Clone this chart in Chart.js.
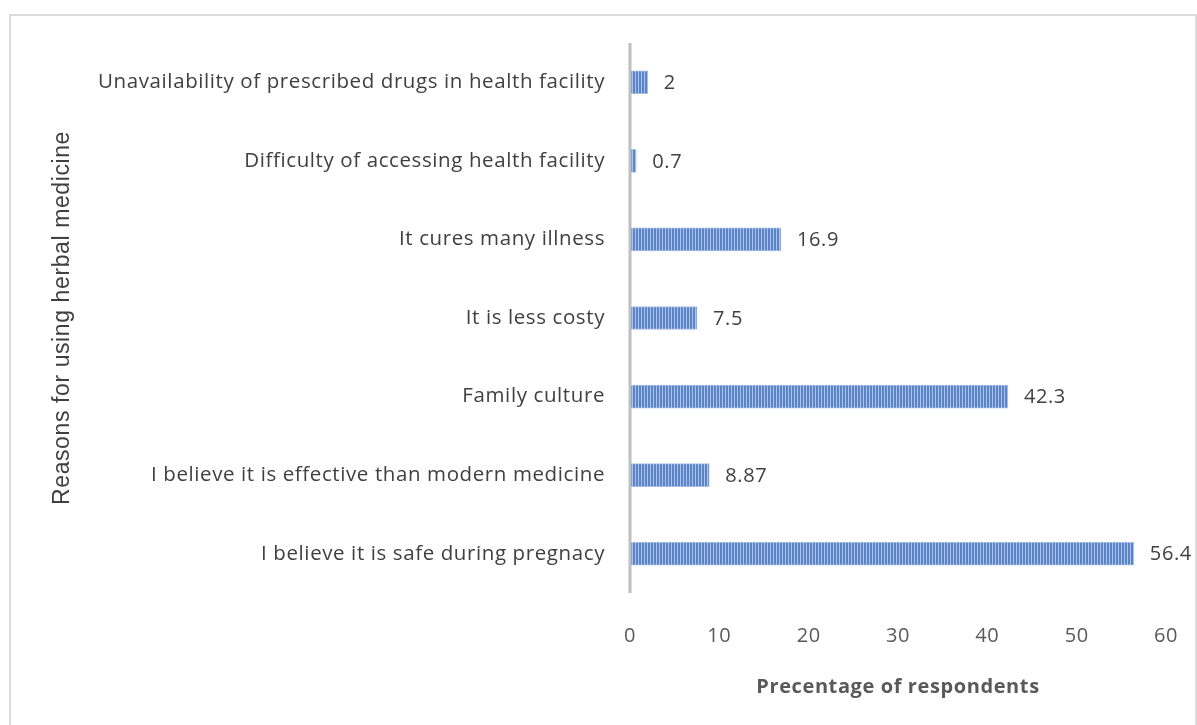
<!DOCTYPE html>
<html>
<head>
<meta charset="utf-8">
<script src="https://cdn.jsdelivr.net/npm/chart.js@4/dist/chart.umd.min.js"></script>
<style>
  html, body { margin: 0; padding: 0; background: #fff; }
  #wrap { width: 1197px; height: 725px; position: relative; }
</style>
</head>
<body>
<div id="wrap"><canvas id="reasonsChart"></canvas></div>
<script>
/* ---------- DATA ---------- */
const reasons = [
    "Unavailability of prescribed drugs in health facility",
    "Difficulty of accessing health facility",
    "It cures many illness",
    "It is less costy",
    "Family culture",
    "I believe it is effective than modern medicine",
    "I believe it is safe during pregnacy"
];
const percents = [2, 0.7, 16.9, 7.5, 42.3, 8.87, 56.4];
const valueLabels = ["2", "0.7", "16.9", "7.5", "42.3", "8.87", "56.4"];
const xTicks = [0, 10, 20, 30, 40, 50, 60];

const FONT = "'Open Sans', 'Liberation Sans', sans-serif";

/* ---------- STRIPED FILL ---------- */
function stripePattern() {
    const c = document.createElement("canvas");
    c.width = 3; c.height = 4;
    const g = c.getContext("2d");
    g.fillStyle = "#5a83c8";
    g.fillRect(0, 0, 2, 4);
    g.fillStyle = "#adc4e9";
    g.fillRect(2, 0, 1, 4);
    return g.createPattern(c, "repeat");
}

/* ---------- PLUGINS ---------- */
const frame = {
    id: "frame",
    beforeDraw(chart) {
        const ctx = chart.ctx;
        ctx.save();
        ctx.strokeStyle = "#dcdcdc";
        ctx.lineWidth = 2;
        ctx.strokeRect(10, 15, 1186, 730);
        ctx.restore();
        // wider letter spacing for all texts, closer to the original rendering
        ctx.letterSpacing = "0.6px";
    }
};

const zeroLine = {
    id: "zeroLine",
    afterDatasetsDraw(chart) {
        const { ctx, chartArea, scales } = chart;
        const x = scales.x.getPixelForValue(0);
        ctx.save();
        ctx.strokeStyle = "#bfbfbf";
        ctx.lineWidth = 3;
        ctx.beginPath();
        ctx.moveTo(x, chartArea.top);
        ctx.lineTo(x, chartArea.bottom);
        ctx.stroke();
        ctx.restore();
    }
};

const barValues = {
    id: "barValues",
    afterDatasetsDraw(chart) {
        const ctx = chart.ctx;
        const meta = chart.getDatasetMeta(0);
        ctx.save();
        ctx.font = "20px " + FONT;
        ctx.fillStyle = "#404040";
        ctx.textBaseline = "middle";
        ctx.textAlign = "left";
        meta.data.forEach((bar, i) => {
            ctx.fillText(valueLabels[i], bar.x + 16, bar.y + 1);
        });
        ctx.restore();
    }
};

/* ---------- CHART ---------- */
const ctx = document.getElementById("reasonsChart").getContext("2d");

new Chart(ctx, {
    type: "bar",
    data: {
        labels: reasons,
        datasets: [{
            data: percents,
            backgroundColor: stripePattern(),
            borderColor: "#a6bee6",
            borderWidth: 1,
            barThickness: 23
        }]
    },
    options: {
        indexAxis: "y",
        responsive: true,
        maintainAspectRatio: false,
        animation: false,
        layout: { padding: { left: 0, right: 31, top: 43, bottom: 0 } },
        plugins: {
            legend: { display: false },
            tooltip: { enabled: false }
        },
        scales: {
            x: {
                min: 0,
                max: 60,
                afterBuildTicks(scale) {
                    scale.ticks = xTicks.map(v => ({ value: v }));
                },
                afterFit(scale) {
                    scale.height = 132;
                    scale.paddingLeft = 0;
                    scale.paddingRight = 0;
                },
                grid: { display: false, drawTicks: false },
                border: { display: false },
                ticks: {
                    padding: 31,
                    color: "#595959",
                    font: { family: FONT, size: 20 }
                },
                title: {
                    display: true,
                    text: "Precentage of respondents",
                    color: "#595959",
                    font: { family: FONT, size: 20, weight: "bold" },
                    padding: { top: 0, bottom: 26 }
                }
            },
            y: {
                afterFit(scale) { scale.width = 630; },
                grid: { display: false, drawTicks: false },
                border: { display: false },
                ticks: {
                    padding: 25,
                    color: "#404040",
                    font: { family: FONT, size: 20.5 }
                },
                title: {
                    display: true,
                    text: "Reasons for using herbal medicine",
                    color: "#404040",
                    font: { family: "'Liberation Sans', Arial, sans-serif", size: 23 },
                    padding: { top: 49, bottom: 0 }
                }
            }
        }
    },
    plugins: [frame, zeroLine, barValues]
});
</script>
</body>
</html>
